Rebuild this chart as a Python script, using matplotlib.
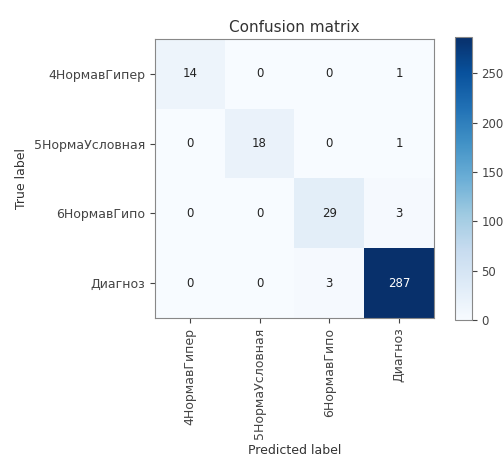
"""
Confusion matrix for the four-class diagnosis model
"""
import itertools
import matplotlib
matplotlib.use('Agg')
import matplotlib.pyplot as plt
import numpy as np

# pylint: disable=invalid-name

classes = ['4НормавГипер', '5НормаУсловная', '6НормавГипо', 'Диагноз']
row_4 = [14, 0, 0, 1]
row_5 = [0, 18, 0, 1]
row_6 = [0, 0, 29, 3]
row_d = [0, 0, 3, 287]

if __name__ == "__main__":
    cm = np.array([row_4, row_5, row_6, row_d])

    fig = plt.figure(figsize=(5.04, 4.57), dpi=100)
    ax = fig.add_axes([0.3075, 0.300, 0.5535, 0.619])
    cax = fig.add_axes([0.903, 0.300, 0.033, 0.619])

    im = ax.imshow(cm, interpolation='nearest', cmap=plt.cm.Blues)
    ax.set_title('Confusion matrix', fontsize=11, pad=5, color='#333333')
    cb = fig.colorbar(im, cax=cax)
    cb.ax.tick_params(labelsize=8.5, colors='#444444')
    cb.outline.set_edgecolor('#888888')

    ticks = np.arange(len(classes))
    ax.set_xticks(ticks)
    ax.set_xticklabels(classes, rotation=90, fontsize=9, color='#333333')
    ax.set_yticks(ticks)
    ax.set_yticklabels(classes, fontsize=9, color='#333333')
    ax.tick_params(colors='#444444')
    for spine in ax.spines.values():
        spine.set_edgecolor('#888888')

    # white text on dark cells
    thresh = cm.max() / 2.
    for i, j in itertools.product(range(cm.shape[0]), range(cm.shape[1])):
        ax.text(j, i, format(cm[i, j], 'd'),
                horizontalalignment='center', verticalalignment='center',
                fontsize=8.5,
                color='white' if cm[i, j] > thresh else '#222222')

    ax.set_ylabel('True label', fontsize=9, color='#333333')
    ax.set_xlabel('Predicted label', fontsize=9, color='#333333')
    fig.savefig('out.png', dpi=100)
